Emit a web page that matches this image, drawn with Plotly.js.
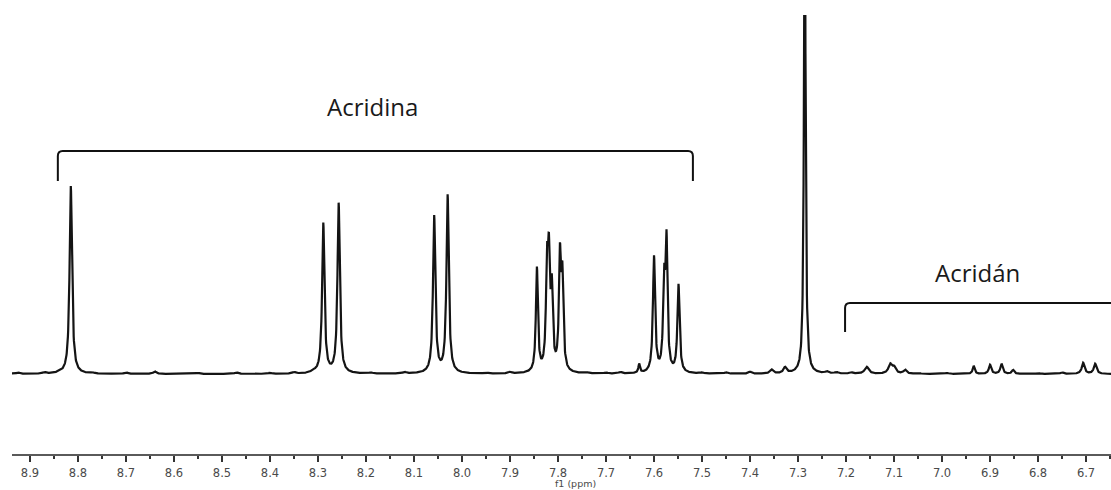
<!DOCTYPE html>
<html>
<head>
<meta charset="utf-8">
<script src="https://cdn.plot.ly/plotly-3.0.1.min.js"></script>
<style>
  html, body { margin: 0; padding: 0; background: #fff; }
  #chart { width: 1111px; height: 490px; }
</style>
</head>
<body>
<div id="chart"></div>
<script>
// 1H NMR spectrum (f1, ppm): resolved signals, as chemical shift / intensity / half-width
const peakShifts = [
  8.815,
  8.289, 8.257,
  8.058, 8.030,
  7.844, 7.823, 7.819, 7.813, 7.796, 7.791,
  7.631,
  7.600, 7.579, 7.574, 7.549,
  7.355, 7.327,
  7.286,
  7.157, 7.108, 7.100, 7.077,
  6.934, 6.900, 6.876, 6.852,
  6.706, 6.681
];
const peakHeights = [
  188,
  150, 170,
  157, 178,
  104, 95, 100, 76, 110, 88,
  9,
  116, 82, 126, 88,
  4, 6,
  520,
  7, 9, 6, 4,
  8, 9, 10, 4,
  11, 10
];
const peakHalfWidths = [
  0.0030,
  0.0029, 0.0029,
  0.0029, 0.0029,
  0.0025, 0.0025, 0.0025, 0.0025, 0.0025, 0.0025,
  0.0020,
  0.0027, 0.0025, 0.0025, 0.0027,
  0.0040, 0.0040,
  0.0019,
  0.0050, 0.0045, 0.0045, 0.0040,
  0.0025, 0.0030, 0.0030, 0.0030,
  0.0035, 0.0035
];

// Low-level baseline ripple (shift, intensity)
const rippleShifts = [8.925, 8.87, 8.84, 8.77, 8.70, 8.64, 8.55, 8.47, 8.40, 8.35, 8.31,
                      8.19, 8.12, 7.95, 7.90, 7.74, 7.70, 7.67, 7.50, 7.45, 7.40,
                      7.24, 7.22, 7.19, 7.05, 6.99, 6.80, 6.75];
const rippleHeights = [1.5, 1.5, 1.0, 1.0, 1.5, 2.5, 1.0, 1.5, 1.0, 1.5, 2.0,
                       1.0, 1.5, 1.0, 1.5, 1.0, 1.0, 1.5, 1.0, 1.5, 2.0,
                       2.0, 1.5, 1.5, 1.0, 1.0, 1.0, 1.5];

// Axis and labels
const ppmRange = [8.9375, 6.648];
const axisTitle = 'f1 (ppm)';
const groupLabels = ['Acridina', 'Acridán'];
const groupSpans = [[8.842, 7.519], [7.202, 6.55]];

// Sampled spectrum built from the signal list (Lorentzian line shape)
const step = 0.0005;
const xs = [], ys = [];
for (let x = 8.95; x >= 6.63; x -= step) {
  let y = 0;
  for (let i = 0; i < peakShifts.length; i++) {
    const d = x - peakShifts[i], w = peakHalfWidths[i];
    y += peakHeights[i] * w * w / (d * d + w * w);
  }
  for (let j = 0; j < rippleShifts.length; j++) {
    const d = x - rippleShifts[j], w = 0.004;
    y += rippleHeights[j] * w * w / (d * d + w * w);
  }
  xs.push(+x.toFixed(5));
  ys.push(y);
}

// Bracket drawn over a ppm span: hooks down at both ends, rounded corners
function bracketPath(x0, x1, yTop, yBottom) {
  const rx = 0.010, ry = 5;
  return `M ${x0},${yBottom} L ${x0},${yTop - ry} Q ${x0},${yTop} ${x0 - rx},${yTop} ` +
         `L ${x1 + rx},${yTop} Q ${x1},${yTop} ${x1},${yTop - ry} L ${x1},${yBottom}`;
}

const trace = {
  x: xs, y: ys, type: 'scatter', mode: 'lines',
  line: { color: '#141414', width: 2.2 },
  hoverinfo: 'skip'
};

const layout = {
  width: 1111, height: 490,
  margin: { l: 12, r: 0, t: 15, b: 36 },
  paper_bgcolor: '#ffffff', plot_bgcolor: '#ffffff',
  showlegend: false,
  xaxis: {
    range: ppmRange,
    showgrid: false, zeroline: false,
    showline: true, linecolor: '#5a5a5a', linewidth: 2,
    ticks: 'outside', ticklen: 6, tickwidth: 1.5, tickcolor: '#333',
    tick0: 0, dtick: 0.1, tickformat: '.1f',
    ticklabelstandoff: 1,
    minor: { dtick: 0.05, ticks: 'outside', ticklen: 3, tickwidth: 1.5, tickcolor: '#333' },
    tickfont: { family: 'DejaVu Sans, Verdana, sans-serif', size: 11.5, color: '#4a4a4a' }
  },
  yaxis: {
    range: [-80, 359], visible: false, showgrid: false, zeroline: false, fixedrange: true
  },
  shapes: [
    { type: 'path', xref: 'x', yref: 'y',
      path: bracketPath(groupSpans[0][0], groupSpans[0][1], 223, 193),
      line: { color: '#111', width: 2 } },
    { type: 'path', xref: 'x', yref: 'y',
      path: bracketPath(groupSpans[1][0], groupSpans[1][1], 71, 42),
      line: { color: '#111', width: 2 } }
  ],
  annotations: [
    { x: 8.1875, y: 268, xref: 'x', yref: 'y',
      text: groupLabels[0], showarrow: false,
      font: { family: 'Open Sans, sans-serif', size: 24, color: '#1a1a1a' } },
    { x: 6.926, y: 102, xref: 'x', yref: 'y',
      text: groupLabels[1], showarrow: false,
      font: { family: 'Open Sans, sans-serif', size: 24, color: '#1a1a1a' } },
    { x: 7.808, y: -0.0815, xref: 'x', yref: 'paper', xanchor: 'left', yanchor: 'bottom',
      text: axisTitle, showarrow: false, borderpad: 0,
      font: { family: 'DejaVu Sans, Verdana, sans-serif', size: 9.5, color: '#4a4a4a' } }
  ]
};

Plotly.newPlot('chart', [trace], layout, { staticPlot: true, displayModeBar: false });
</script>
</body>
</html>
